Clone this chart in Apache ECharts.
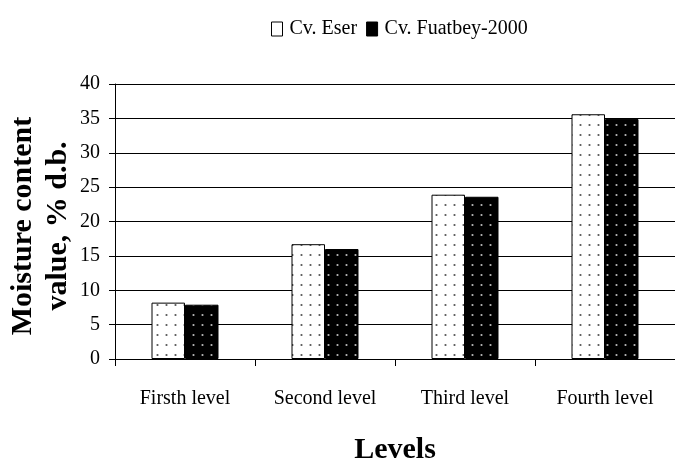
<!DOCTYPE html>
<html>
<head>
<meta charset="utf-8">
<script src="https://cdn.jsdelivr.net/npm/echarts@6/dist/echarts.min.js"></script>
<style>
html,body{margin:0;padding:0;background:#fff;}
#chart{width:675px;height:470px;}
</style>
</head>
<body>
<div id="chart"></div>
<script>
const categories = ['Firsth level', 'Second level', 'Third level', 'Fourth level'];
const seriesNames = ['Cv. Eser', 'Cv. Fuatbey-2000'];
const eserValues = [8.2, 16.7, 23.9, 35.6];
const fuatbeyValues = [7.9, 16.0, 23.6, 34.9];
const yTicks = [0, 5, 10, 15, 20, 25, 30, 35, 40];
const yTitle = 'Moisture content\nvalue, % d.b.';
const xTitle = 'Levels';

function dotPattern(bg, dot) {
  const c = document.createElement('canvas');
  c.width = 9; c.height = 10;
  const g = c.getContext('2d');
  g.fillStyle = bg; g.fillRect(0, 0, 9, 10);
  g.fillStyle = dot;
  g.beginPath(); g.arc(4.5, 5, 1.1, 0, Math.PI * 2); g.fill();
  return { image: c, repeat: 'repeat' };
}

const font = 'Liberation Serif, Times New Roman, serif';
const chart = echarts.init(document.getElementById('chart'), null, { renderer: 'canvas' });
chart.setOption({
  animation: false,
  backgroundColor: '#fff',
  textStyle: { fontFamily: font, color: '#000' },
  legend: {
    top: 14, left: 266,
    itemWidth: 11, itemHeight: 14, itemGap: 9,
    textStyle: { fontFamily: font, fontSize: 20, color: '#000', padding: [0, 0, 0, 2] },
    data: [
      { name: seriesNames[0], icon: 'rect', itemStyle: { color: '#fff', borderColor: '#000', borderWidth: 1 } },
      { name: seriesNames[1], icon: 'rect', itemStyle: { color: '#000', borderColor: '#000', borderWidth: 1 } }
    ]
  },
  grid: { left: 115, top: 84, width: 561, height: 284 },
  graphic: [{
    type: 'text',
    x: 40.5, y: 226,
    rotation: Math.PI / 2,
    style: {
      text: yTitle,
      fontFamily: font, fontSize: 30, fontWeight: 'bold', fill: '#000',
      lineHeight: 35,
      align: 'center', verticalAlign: 'middle'
    }
  }],
  xAxis: {
    type: 'category',
    data: categories,
    name: xTitle,
    nameLocation: 'middle',
    nameGap: 76,
    nameTextStyle: { fontFamily: font, fontSize: 30, fontWeight: 'bold', color: '#000' },
    axisLine: { lineStyle: { color: '#000', width: 1 } },
    axisTick: { show: true, length: 7, lineStyle: { color: '#000' } },
    axisLabel: { fontFamily: font, fontSize: 20, color: '#000', margin: 30 }
  },
  yAxis: {
    type: 'value',
    min: yTicks[0], max: yTicks[yTicks.length - 1], interval: 5,
    axisLine: { show: true, lineStyle: { color: '#000', width: 1 } },
    axisTick: { show: true, length: 6, lineStyle: { color: '#000' } },
    axisLabel: { fontFamily: font, fontSize: 20, color: '#000', margin: 15 },
    splitLine: { show: true, lineStyle: { color: '#000', width: 1 } }
  },
  series: [
    {
      name: seriesNames[0], type: 'bar', data: eserValues,
      barWidth: 33.5, barGap: '0%',
      itemStyle: { color: dotPattern('#fff', '#555'), borderColor: '#000', borderWidth: 1 }
    },
    {
      name: seriesNames[1], type: 'bar', data: fuatbeyValues,
      barWidth: 33.5, barGap: '0%',
      itemStyle: { color: dotPattern('#000', '#bbb'), borderColor: '#000', borderWidth: 1 }
    }
  ]
});
</script>
</body>
</html>
